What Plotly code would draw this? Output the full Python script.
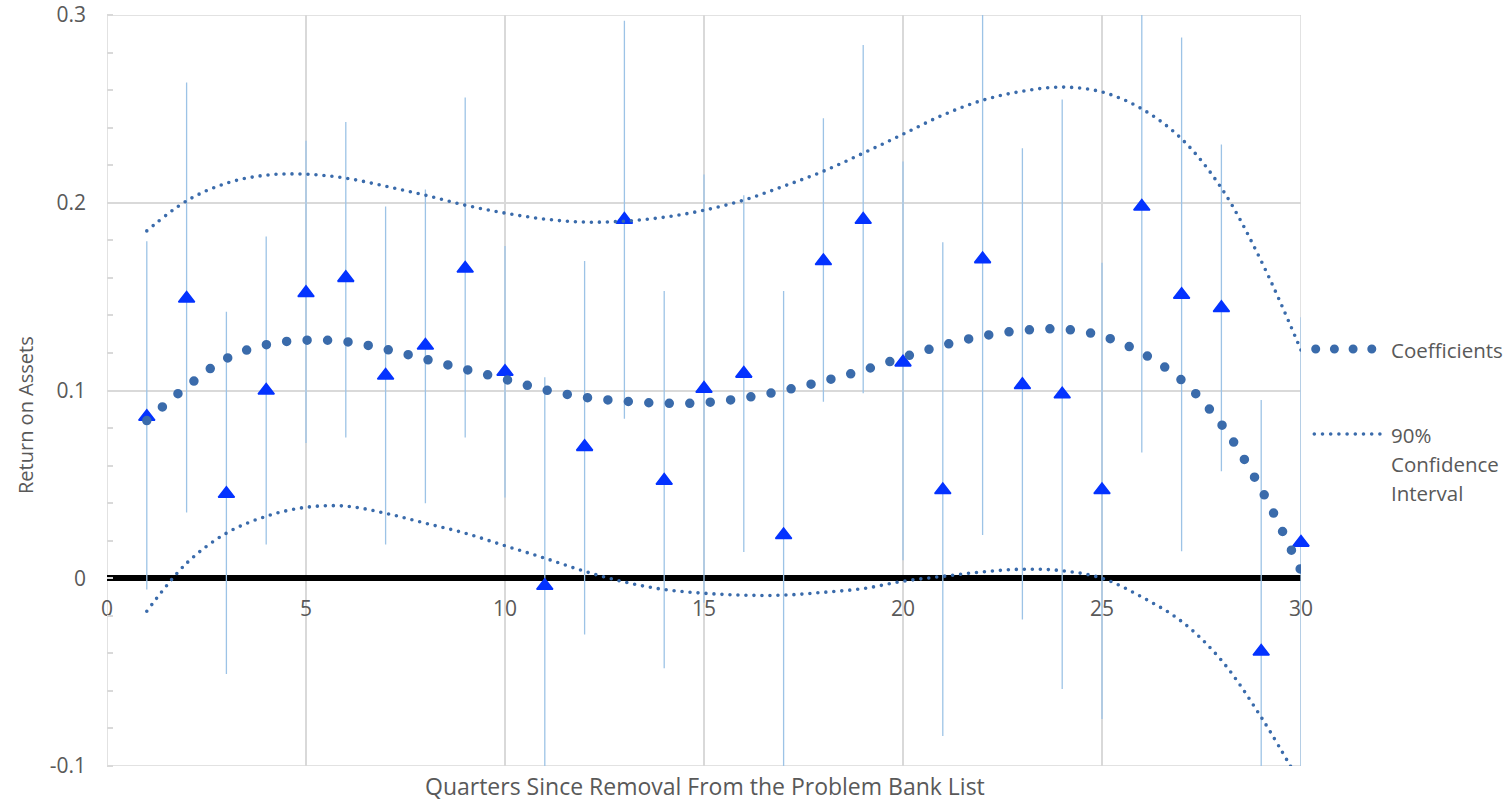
import plotly.graph_objects as go

# ---------------- data ----------------
quarters = list(range(1, 31))

roa_coef = [0.086, 0.149, 0.045, 0.100, 0.152, 0.160, 0.108, 0.124, 0.165, 0.110,
            -0.004, 0.070, 0.191, 0.052, 0.101, 0.109, 0.023, 0.169, 0.191, 0.115,
            0.047, 0.170, 0.103, 0.098, 0.047, 0.198, 0.151, 0.144, -0.039, 0.019]

ci_high = [0.1795, 0.264, 0.142, 0.182, 0.233, 0.243, 0.198, 0.207, 0.256, 0.177,
           0.107, 0.169, 0.297, 0.153, 0.215, 0.204, 0.153, 0.245, 0.284, 0.222,
           0.179, 0.317, 0.229, 0.255, 0.168, 0.329, 0.288, 0.231, 0.095, 0.139]

ci_low = [-0.006, 0.035, -0.051, 0.018, 0.072, 0.075, 0.018, 0.040, 0.075, 0.043,
          -0.115, -0.030, 0.085, -0.048, -0.013, 0.014, -0.107, 0.094, 0.0985, 0.0096,
          -0.084, 0.023, -0.022, -0.059, -0.075, 0.067, 0.0144, 0.057, -0.173, -0.101]

# trendlines (values at each quarter)
trend_coef = [0.084, 0.102, 0.117, 0.1244, 0.1268, 0.126, 0.122, 0.1167, 0.1113, 0.106,
              0.1004, 0.0964, 0.0943, 0.0932, 0.0935, 0.096, 0.100, 0.105, 0.1108, 0.1177,
              0.124, 0.129, 0.132, 0.1327, 0.129, 0.120, 0.1055, 0.082, 0.0474, 0.004]

trend_high = [0.185, 0.201, 0.2104, 0.2147, 0.2152, 0.2131, 0.2088, 0.204, 0.1987, 0.1945,
              0.1913, 0.1897, 0.1902, 0.1923, 0.196, 0.2014, 0.2088, 0.2168, 0.2264, 0.2365,
              0.2467, 0.2546, 0.2594, 0.2616, 0.259, 0.250, 0.234, 0.2078, 0.169, 0.1215]

trend_low = [-0.0176, 0.008, 0.024, 0.033, 0.0378, 0.0384, 0.0346, 0.0293, 0.024, 0.0173,
             0.0107, 0.0037, -0.002, -0.006, -0.008, -0.009, -0.009, -0.0075, -0.0055, -0.0016,
             0.001, 0.0034, 0.0048, 0.004, 0.0, -0.010, -0.023, -0.0437, -0.074, -0.110]

xtick_vals = [0, 5, 10, 15, 20, 25, 30]
xtick_text = ["0", "5", "10", "15", "20", "25", "30"]
ytick_vals = [-0.1, 0, 0.1, 0.2, 0.3]
ytick_text = ["-0.1", "0", "0.1", "0.2", "0.3"]

legend_names = ["Coefficients", "90%", "Confidence", "Interval"]

# ---------------- styling ----------------
FONT = "Open Sans"
TXT = "#595959"
GRID = "#D9D9D9"
TRI = "#0433FF"
ERR = "#9DC3E6"
TREND = "#3A6BAB"

W, H = 1512, 802
ML, MR, MT, MB = 107, 211, 15, 36
PW = W - ML - MR
PH = H - MT - MB


def px_x(p):
    return (p - ML) / PW


def px_y(p):
    return (H - MB - p) / PH


err_plus = [h - v for h, v in zip(ci_high, roa_coef)]
err_minus = [v - l for v, l in zip(roa_coef, ci_low)]

fig = go.Figure()

# error bars (clipped to plot area)
fig.add_trace(go.Scatter(
    x=quarters, y=roa_coef, mode="markers",
    marker=dict(size=1, opacity=0),
    error_y=dict(type="data", symmetric=False, array=err_plus, arrayminus=err_minus,
                 color=ERR, thickness=1.3, width=0),
    hoverinfo="skip", showlegend=False, cliponaxis=True,
))

# triangles
fig.add_trace(go.Scatter(
    x=quarters, y=roa_coef, mode="markers",
    marker=dict(symbol="triangle-up", size=14, color=TRI, line=dict(color=TRI, width=1.6)),
    showlegend=False, cliponaxis=False,
))

# confidence interval trendlines
for tr in (trend_high, trend_low):
    fig.add_trace(go.Scatter(
        x=quarters, y=tr, mode="lines",
        line=dict(color=TREND, width=3.6, dash="0px,8px", shape="spline", smoothing=1.0),
        showlegend=False, hoverinfo="skip",
    ))

# coefficient trendline
fig.add_trace(go.Scatter(
    x=quarters, y=trend_coef, mode="lines",
    line=dict(color=TREND, width=9.5, dash="0px,20.5px", shape="spline", smoothing=1.0),
    showlegend=False, hoverinfo="skip",
))

# manual legend (samples drawn as dotted shapes in the right margin)
shapes = [
    dict(type="rect", xref="x", yref="y", x0=0, x1=30, y0=-0.1, y1=0.3,
         line=dict(color=GRID, width=1.5), layer="below"),
    dict(type="line", xref="paper", yref="paper",
         x0=px_x(1315.7), x1=px_x(1372.4), y0=px_y(349), y1=px_y(349),
         line=dict(color=TREND, width=9, dash="0px,18.7px"), layer="above"),
    dict(type="line", xref="paper", yref="paper",
         x0=px_x(1314.3), x1=px_x(1380.5), y0=px_y(434), y1=px_y(434),
         line=dict(color=TREND, width=3.6, dash="0px,8.2px"), layer="above"),
]

annotations = []
for name, ypx in zip(legend_names, [350, 435, 464, 493]):
    annotations.append(dict(
        x=px_x(1389), y=px_y(ypx), xref="paper", yref="paper", text=name, showarrow=False,
        xanchor="left", yanchor="middle", font=dict(family=FONT, size=20.5, color=TXT),
    ))

annotations.append(dict(
    x=px_x(25), y=px_y(415), xref="paper", yref="paper", text="Return on Assets",
    showarrow=False, textangle=-90, xanchor="center", yanchor="middle",
    font=dict(family=FONT, size=20, color=TXT),
))
annotations.append(dict(
    x=px_x(705), y=px_y(786), xref="paper", yref="paper",
    text="Quarters Since Removal From the Problem Bank List",
    showarrow=False, xanchor="center", yanchor="middle",
    font=dict(family=FONT, size=23, color=TXT),
))

fig.update_layout(
    width=W, height=H, autosize=False,
    margin=dict(l=ML, r=MR, t=MT, b=MB, pad=0, autoexpand=False),
    paper_bgcolor="white", plot_bgcolor="white",
    showlegend=False,
    font=dict(family=FONT, size=20, color=TXT),
    xaxis=dict(
        domain=[0, 1], range=[0, 30],
        tickmode="array", tickvals=xtick_vals, ticktext=xtick_text,
        showgrid=True, gridcolor=GRID, gridwidth=1.5,
        zeroline=False, showline=False, ticks="",
        anchor="free", position=0.25, ticklabelstandoff=16,
        tickfont=dict(family=FONT, size=21, color=TXT),
    ),
    yaxis=dict(
        domain=[0, 1], range=[-0.1, 0.3],
        tickmode="array", tickvals=ytick_vals, ticktext=ytick_text,
        showgrid=True, gridcolor=GRID, gridwidth=1.5,
        zeroline=True, zerolinecolor="black", zerolinewidth=6,
        showline=False, ticks="", ticklabelstandoff=20,
        minor=dict(dtick=0.02, tick0=0, ticks="inside", ticklen=6, tickcolor=GRID,
                   tickwidth=1.5, showgrid=False),
        tickfont=dict(family=FONT, size=21, color=TXT),
    ),
    shapes=shapes,
    annotations=annotations,
)

post = ("var s=document.createElement('style');"
        "s.innerHTML='.js-plotly-plot .plotly path.js-line,"
        ".js-plotly-plot .plotly .shapelayer path{stroke-linecap:round !important;}';"
        "document.head.appendChild(s);")

fig.write_html("out.html", post_script=post, config={"responsive": False})
